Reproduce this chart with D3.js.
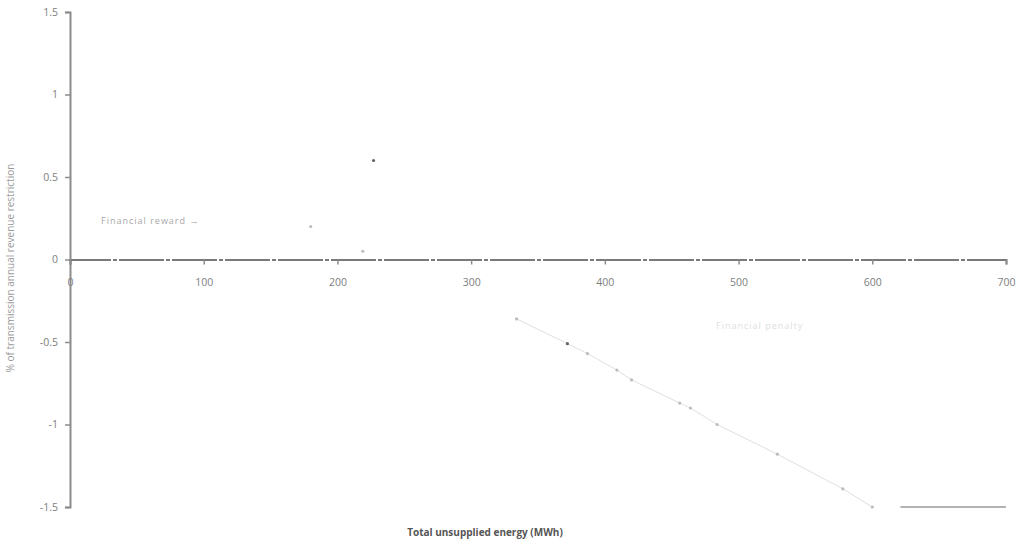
<!DOCTYPE html>
<meta charset="utf-8">
<style>
body { margin: 0; background: #fff; }
text { font-family: "Open Sans", sans-serif; }
.tick text { fill: #7e7e7e; font-size: 10.5px; }
</style>
<svg width="1019" height="546"></svg>
<script src="https://cdn.jsdelivr.net/npm/d3@7"></script>
<script>

// data
var rewardX = [180, 219, 227];
var rewardY = [0.2, 0.05, 0.6];
var penaltyX = [334, 372, 387, 409, 420, 456, 464, 484, 529, 578, 600];
var penaltyY = [-0.36, -0.51, -0.57, -0.67, -0.73, -0.87, -0.9, -1.0, -1.18, -1.39, -1.5];
var capX = [621, 700];
var capY = [-1.5, -1.5];
var xTicks = [0, 100, 200, 300, 400, 500, 600, 700];
var yTicks = [1.5, 1, 0.5, 0, -0.5, -1, -1.5];

var svg = d3.select("svg");

var x = d3.scaleLinear().domain([0, 700]).range([70, 1006]);
var y = d3.scaleLinear().domain([-1.5, 1.5]).range([507, 12]);

// y axis
var yAxis = svg.append("g").attr("transform", "translate(70,0)")
    .call(d3.axisLeft(y).tickValues(yTicks).tickSize(5).tickFormat(function(d) { return String(d); }));
yAxis.select(".domain").attr("stroke", "#8c8c8c").attr("stroke-width", 2);
yAxis.selectAll(".tick line").attr("stroke", "#8c8c8c").attr("stroke-width", 1.5);
yAxis.selectAll(".tick text").attr("x", -12);

// x axis at zero
var xAxis = svg.append("g").attr("transform", "translate(0," + y(0) + ")")
    .call(d3.axisBottom(x).tickValues(xTicks).tickSize(5).tickPadding(14).tickFormat(function(d) { return String(d); }));
xAxis.select(".domain").attr("stroke", "#7a7a7a").attr("stroke-width", 2).attr("stroke-dasharray", "45,2,4,2");
xAxis.selectAll(".tick line").attr("stroke", "#8c8c8c").attr("stroke-width", 1.5);

// penalty line
var line = d3.line().x(function(d) { return x(d[0]); }).y(function(d) { return y(d[1]); });
svg.append("path")
    .datum(d3.zip(penaltyX, penaltyY))
    .attr("d", line)
    .attr("fill", "none")
    .attr("stroke", "#e0e0e0")
    .attr("stroke-width", 1);

svg.append("path")
    .datum(d3.zip(capX, capY))
    .attr("d", line)
    .attr("fill", "none")
    .attr("stroke", "#9a9a9a")
    .attr("stroke-width", 1.5);

// points
svg.append("g").selectAll("circle")
    .data(d3.zip(rewardX, rewardY).concat(d3.zip(penaltyX, penaltyY)))
    .enter().append("circle")
    .attr("cx", function(d) { return x(d[0]); })
    .attr("cy", function(d) { return y(d[1]); })
    .attr("r", 1.6)
    .attr("fill", function(d, i) { return i == 2 || i == 4 ? "#666" : "#bcbcbc"; });

// annotations
svg.append("text").attr("x", 101).attr("y", 224)
    .attr("fill", "#a8a8a8").style("font-size", "9px").style("letter-spacing", "1px")
    .text("Financial reward  \u2192");
svg.append("text").attr("x", 716).attr("y", 329)
    .attr("fill", "#e0e0e0").style("font-size", "9px").style("letter-spacing", "1px")
    .text("Financial penalty");

// titles
svg.append("text").attr("x", 485).attr("y", 536)
    .attr("text-anchor", "middle").attr("fill", "#555").style("font-size", "10px").style("font-weight", "bold")
    .text("Total unsupplied energy (MWh)");
svg.append("text").attr("transform", "translate(14,268) rotate(-90)")
    .attr("text-anchor", "middle").attr("fill", "#9a9a9a").style("font-size", "10px")
    .text("% of transmission annual revenue restriction");

</script>
